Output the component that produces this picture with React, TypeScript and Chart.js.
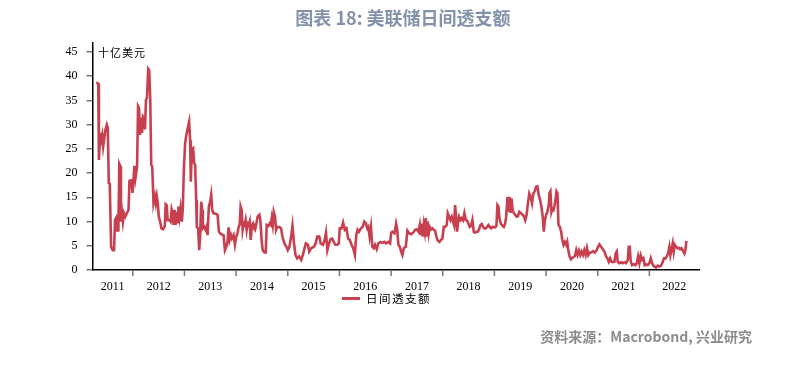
import { useEffect, useRef } from "react";
import { Chart, registerables } from "chart.js";
Chart.register(...registerables);

// decimal-year dates of the observations
const dates: number[] = [
  2011.293, 2011.331, 2011.344, 2011.369, 2011.389, 2011.408, 2011.427, 2011.446, 2011.471, 2011.497,
  2011.516, 2011.535, 2011.554, 2011.580, 2011.611, 2011.637, 2011.656, 2011.675, 2011.688, 2011.707,
  2011.720, 2011.739, 2011.758, 2011.771, 2011.790, 2011.809, 2011.828, 2011.854, 2011.885, 2011.917,
  2011.936, 2011.968, 2011.994, 2012.013, 2012.032, 2012.051, 2012.083, 2012.102, 2012.121, 2012.140,
  2012.159, 2012.178, 2012.197, 2012.217, 2012.236, 2012.255, 2012.274, 2012.299, 2012.318, 2012.338,
  2012.357, 2012.376, 2012.401, 2012.427, 2012.446, 2012.465, 2012.484, 2012.503, 2012.529, 2012.554,
  2012.586, 2012.618, 2012.637, 2012.656, 2012.675, 2012.713, 2012.732, 2012.752, 2012.771, 2012.790,
  2012.809, 2012.828, 2012.847, 2012.866, 2012.885, 2012.904, 2012.924, 2012.949, 2012.968, 2012.987,
  2013.013, 2013.038, 2013.064, 2013.091, 2013.110, 2013.123, 2013.142, 2013.168, 2013.188, 2013.207,
  2013.227, 2013.239, 2013.265, 2013.285, 2013.304, 2013.324, 2013.343, 2013.356, 2013.382, 2013.408,
  2013.427, 2013.447, 2013.472, 2013.498, 2013.518, 2013.537, 2013.563, 2013.608, 2013.641, 2013.667,
  2013.706, 2013.757, 2013.783, 2013.809, 2013.835, 2013.854, 2013.874, 2013.900, 2013.919, 2013.951,
  2013.977, 2014.003, 2014.029, 2014.049, 2014.068, 2014.087, 2014.107, 2014.126, 2014.146, 2014.165,
  2014.184, 2014.204, 2014.223, 2014.243, 2014.262, 2014.282, 2014.307, 2014.327, 2014.346, 2014.366,
  2014.392, 2014.417, 2014.450, 2014.469, 2014.495, 2014.515, 2014.547, 2014.573, 2014.592, 2014.625,
  2014.650, 2014.670, 2014.689, 2014.709, 2014.728, 2014.754, 2014.773, 2014.793, 2014.812, 2014.838,
  2014.871, 2014.896, 2014.922, 2014.948, 2014.974, 2015.000, 2015.032, 2015.065, 2015.091, 2015.117,
  2015.149, 2015.182, 2015.221, 2015.260, 2015.292, 2015.325, 2015.351, 2015.390, 2015.416, 2015.455,
  2015.506, 2015.539, 2015.571, 2015.610, 2015.636, 2015.682, 2015.714, 2015.740, 2015.766, 2015.799,
  2015.825, 2015.857, 2015.890, 2015.922, 2015.961, 2015.987, 2016.006, 2016.039, 2016.071, 2016.104,
  2016.136, 2016.169, 2016.201, 2016.234, 2016.266, 2016.299, 2016.325, 2016.351, 2016.377, 2016.416,
  2016.448, 2016.481, 2016.513, 2016.539, 2016.558, 2016.584, 2016.610, 2016.636, 2016.662, 2016.688,
  2016.721, 2016.753, 2016.792, 2016.831, 2016.870, 2016.903, 2016.948, 2016.981, 2017.000, 2017.026,
  2017.065, 2017.097, 2017.116, 2017.142, 2017.168, 2017.194, 2017.219, 2017.245, 2017.284, 2017.316,
  2017.348, 2017.387, 2017.426, 2017.465, 2017.497, 2017.529, 2017.555, 2017.574, 2017.594, 2017.613,
  2017.632, 2017.652, 2017.671, 2017.690, 2017.710, 2017.729, 2017.748, 2017.774, 2017.800, 2017.826,
  2017.852, 2017.877, 2017.903, 2017.935, 2017.968, 2017.994, 2018.019, 2018.045, 2018.077, 2018.097,
  2018.123, 2018.148, 2018.174, 2018.200, 2018.219, 2018.239, 2018.258, 2018.277, 2018.297, 2018.316,
  2018.342, 2018.368, 2018.394, 2018.419, 2018.445, 2018.471, 2018.497, 2018.523, 2018.548, 2018.574,
  2018.600, 2018.626, 2018.652, 2018.677, 2018.703, 2018.729, 2018.755, 2018.781, 2018.806, 2018.832,
  2018.858, 2018.884, 2018.910, 2018.935, 2018.961, 2019.013, 2019.039, 2019.058, 2019.078, 2019.097,
  2019.123, 2019.156, 2019.182, 2019.208, 2019.227, 2019.253, 2019.273, 2019.292, 2019.312, 2019.331,
  2019.351, 2019.377, 2019.403, 2019.429, 2019.455, 2019.481, 2019.513, 2019.545, 2019.571, 2019.597,
  2019.623, 2019.649, 2019.675, 2019.701, 2019.727, 2019.753, 2019.779, 2019.805, 2019.831, 2019.857,
  2019.883, 2019.909, 2019.935, 2019.955, 2019.974, 2020.000, 2020.026, 2020.052, 2020.065, 2020.084,
  2020.104, 2020.123, 2020.143, 2020.162, 2020.182, 2020.201, 2020.221, 2020.240, 2020.266, 2020.292,
  2020.312, 2020.338, 2020.364, 2020.390, 2020.409, 2020.429, 2020.455, 2020.481, 2020.519, 2020.558,
  2020.584, 2020.610, 2020.636, 2020.662, 2020.688, 2020.714, 2020.740, 2020.766, 2020.792, 2020.818,
  2020.844, 2020.877, 2020.909, 2020.942, 2020.974, 2021.006, 2021.032, 2021.065, 2021.097, 2021.129,
  2021.161, 2021.187, 2021.213, 2021.239, 2021.265, 2021.290, 2021.323, 2021.348, 2021.368, 2021.387,
  2021.419, 2021.452, 2021.484, 2021.516, 2021.548, 2021.581, 2021.600, 2021.619, 2021.639, 2021.665,
  2021.697, 2021.729, 2021.755, 2021.781, 2021.806, 2021.832, 2021.858, 2021.884, 2021.910, 2021.935,
  2021.968, 2022.000, 2022.026, 2022.052, 2022.077, 2022.103, 2022.129, 2022.161, 2022.194, 2022.226,
  2022.258, 2022.284, 2022.310, 2022.335, 2022.361, 2022.387, 2022.406, 2022.426, 2022.452, 2022.471,
  2022.490, 2022.516, 2022.542, 2022.568, 2022.594, 2022.619, 2022.645, 2022.677, 2022.697, 2022.716,
];

// 日间透支额, 十亿美元
const overdraft: number[] = [
  38.7, 38.5, 22.7, 28.3, 26.9, 27.9, 25.5, 27.0, 29.0, 30.0,
  29.3, 17.9, 17.8, 4.8, 4.1, 4.1, 10.3, 10.7, 7.9, 10.3,
  7.9, 21.9, 21.4, 10.0, 12.0, 10.0, 11.7, 11.0, 11.7, 12.4,
  18.4, 18.5, 15.9, 18.6, 21.5, 19.0, 21.4, 33.8, 33.4, 27.9,
  31.4, 28.3, 31.7, 31.4, 29.0, 35.1, 35.5, 41.5, 41.2, 35.1,
  21.7, 21.4, 13.8, 15.2, 13.8, 15.2, 13.8, 11.0, 10.0, 8.6,
  8.4, 9.0, 13.6, 13.4, 10.3, 10.3, 10.0, 12.5, 11.7, 9.3,
  12.4, 9.3, 12.0, 9.6, 13.1, 11.0, 12.7, 10.0, 12.7, 20.3,
  26.2, 27.9, 29.3, 30.6, 26.8, 18.2, 24.8, 25.1, 22.0, 21.7,
  14.5, 8.9, 8.6, 4.1, 6.9, 14.1, 12.4, 8.6, 8.9, 8.3,
  8.9, 7.2, 13.1, 14.1, 15.5, 12.4, 11.7, 11.6, 11.4, 7.9,
  7.4, 7.2, 4.1, 4.8, 5.9, 8.8, 6.2, 7.2, 6.5, 7.2,
  5.2, 6.9, 7.6, 8.9, 9.3, 13.1, 12.4, 8.3, 9.6, 9.3,
  10.3, 8.3, 9.6, 9.3, 10.0, 6.2, 9.3, 9.6, 8.6, 8.3,
  9.6, 11.0, 11.4, 10.3, 5.9, 4.1, 3.6, 3.6, 9.3, 9.1,
  9.6, 9.3, 10.7, 9.3, 12.0, 11.0, 8.3, 8.9, 8.8, 8.9,
  8.6, 6.9, 5.9, 5.2, 4.8, 4.1, 4.8, 6.9, 9.1, 5.8,
  3.1, 2.4, 2.8, 2.1, 3.1, 4.5, 5.5, 5.2, 3.8, 4.5,
  4.8, 5.5, 6.9, 6.9, 5.5, 5.2, 6.2, 7.7, 4.1, 5.5,
  6.3, 6.5, 5.8, 5.2, 5.2, 5.5, 8.6, 8.6, 9.8, 8.3,
  8.6, 6.5, 6.2, 5.2, 4.5, 3.1, 7.2, 8.3, 7.9, 8.6,
  8.9, 10.0, 9.6, 8.6, 8.9, 6.9, 8.9, 4.8, 4.5, 5.2,
  4.3, 5.5, 5.8, 5.6, 5.8, 5.5, 5.8, 5.5, 7.6, 7.9,
  7.6, 9.6, 8.6, 5.2, 4.8, 3.8, 3.1, 4.5, 4.8, 8.1,
  7.6, 7.4, 7.7, 8.3, 8.4, 7.9, 9.3, 7.2, 9.6, 6.9,
  9.3, 7.9, 10.7, 6.9, 10.0, 7.6, 8.9, 8.4, 8.6, 8.3,
  8.1, 6.9, 6.1, 5.8, 6.2, 6.5, 8.9, 8.9, 9.3, 11.7,
  11.0, 10.3, 11.0, 10.0, 9.3, 13.4, 11.0, 7.9, 10.0, 11.0,
  10.3, 10.7, 10.3, 11.7, 10.3, 10.2, 9.6, 8.9, 9.1, 10.3,
  7.9, 7.7, 7.9, 7.9, 8.4, 9.3, 9.5, 8.9, 8.6, 8.6,
  8.9, 9.3, 8.9, 8.6, 8.9, 8.8, 9.1, 13.4, 13.1, 10.7,
  9.6, 9.1, 8.9, 9.6, 11.0, 15.1, 12.0, 15.1, 11.8, 14.8,
  12.4, 11.7, 11.4, 11.0, 11.1, 12.0, 11.7, 11.4, 11.1, 10.3,
  11.4, 13.8, 15.8, 15.1, 13.8, 15.8, 16.2, 17.2, 17.3, 15.5,
  14.5, 13.1, 11.0, 7.9, 10.0, 11.4, 12.0, 13.4, 15.8, 16.2,
  12.0, 12.7, 12.4, 13.1, 14.5, 16.2, 15.8, 9.3, 8.9, 7.9,
  6.3, 5.2, 5.8, 5.2, 5.8, 4.1, 2.8, 2.2, 2.6, 2.9,
  4.1, 3.1, 4.0, 3.1, 3.8, 3.1, 4.1, 3.1, 4.5, 3.1,
  3.6, 3.6, 3.9, 3.6, 4.0, 4.8, 5.3, 4.8, 4.3, 3.8,
  2.8, 2.4, 1.7, 2.4, 1.7, 1.6, 1.7, 3.4, 3.8, 1.7,
  1.4, 1.6, 1.4, 1.6, 1.4, 2.1, 4.8, 4.8, 1.7, 1.0,
  1.2, 1.0, 1.4, 2.8, 1.4, 3.0, 2.1, 2.4, 1.0, 1.2,
  1.0, 1.4, 2.4, 1.4, 0.9, 0.7, 0.5, 0.9, 0.7, 0.9,
  1.7, 2.4, 2.4, 2.8, 3.4, 4.8, 3.1, 4.1, 5.5, 3.8,
  5.2, 4.8, 4.5, 4.6, 4.3, 4.5, 4.1, 3.4, 4.1, 6.0,
];

const yTicks: number[] = [0, 5, 10, 15, 20, 25, 30, 35, 40, 45];
const yearBounds: number[] = [2012, 2013, 2014, 2015, 2016, 2017, 2018, 2019, 2020, 2021, 2022];
const xMin = 2011.22;
const xMax = 2022.96;
const yMax = 47;

const TITLE = "图表 18: 美联储日间透支额";
const UNIT = "十亿美元";
const SERIES = "日间透支额";
const SOURCE = "资料来源：Macrobond, 兴业研究";
const LINE_COLOR = "#c8404f";

export default function App() {
  const ref = useRef<HTMLCanvasElement>(null);

  useEffect(() => {
    document.body.style.margin = "0";
    const yearTicks = {
      id: "yearTicks",
      afterDraw(chart: any) {
        const s = chart.scales.x;
        const ctx = chart.ctx;
        ctx.save();
        ctx.strokeStyle = "#777";
        ctx.lineWidth = 1.5;
        for (const yr of yearBounds) {
          const px = s.getPixelForValue(yr);
          ctx.beginPath();
          ctx.moveTo(px, s.top);
          ctx.lineTo(px, s.top + 6);
          ctx.stroke();
        }
        ctx.restore();
      },
    };
    const labelTicks = () => {
      const vals: number[] = [(xMin + yearBounds[0]) / 2];
      for (let i = 0; i < yearBounds.length - 1; i++) vals.push((yearBounds[i] + yearBounds[i + 1]) / 2);
      vals.push((yearBounds[yearBounds.length - 1] + xMax) / 2);
      return vals.map((v) => ({ value: v }));
    };
    const chart = new Chart(ref.current!, {
      type: "line",
      data: {
        datasets: [
          {
            label: SERIES,
            data: dates.map((d, i) => ({ x: d, y: overdraft[i] })),
            borderColor: LINE_COLOR,
            backgroundColor: LINE_COLOR,
            borderWidth: 2.6,
            pointRadius: 0,
            tension: 0,
            fill: false,
          },
        ],
      },
      options: {
        responsive: false,
        animation: false,
        devicePixelRatio: 1,
        layout: { padding: { left: 0, right: 87, top: 42.3, bottom: 65 } },
        plugins: { legend: { display: false }, tooltip: { enabled: false } },
        scales: {
          x: {
            type: "linear",
            min: xMin,
            max: xMax,
            grid: { display: false },
            border: { display: true, color: "#000", width: 1.5 },
            afterBuildTicks: (s: any) => {
              s.ticks = labelTicks();
            },
            afterFit: (s: any) => {
              s.height = 30;
            },
            ticks: {
              padding: 2,
              color: "#000",
              autoSkip: false,
              maxRotation: 0,
              font: { family: "'Liberation Serif', serif", size: 12 },
              callback: (v: any) => String(Math.floor(Number(v))),
            },
          },
          y: {
            min: 0,
            max: yMax,
            afterBuildTicks: (s: any) => {
              s.ticks = yTicks.map((v) => ({ value: v }));
            },
            afterFit: (s: any) => {
              s.width = 92.5;
            },
            grid: { drawOnChartArea: false, drawTicks: true, tickLength: 6, color: "#777", lineWidth: 1.5 },
            border: { display: true, color: "#000", width: 1.5 },
            ticks: {
              padding: 9,
              color: "#000",
              font: { family: "'Liberation Serif', serif", size: 12 },
            },
          },
        },
      },
      plugins: [yearTicks],
    } as any);
    return () => chart.destroy();
  }, []);

  return (
    <div style={{ position: "fixed", left: 0, top: 0, width: 786, height: 365, background: "#fff", overflow: "hidden" }}>
      <canvas ref={ref} width={786} height={365} style={{ position: "absolute", left: 0, top: 0, width: 786, height: 365 }} />
      <div
        style={{
          position: "absolute", left: 203, top: 7, width: 400, textAlign: "center",
          fontFamily: "'Noto Sans CJK SC', 'Noto Sans', sans-serif", fontWeight: 700, fontSize: 18,
          lineHeight: "21px", color: "#8392aa", whiteSpace: "nowrap",
        }}
      >
        {TITLE}
      </div>
      <div
        style={{
          position: "absolute", left: 98, top: 45, fontFamily: "'Noto Sans CJK SC', sans-serif",
          fontSize: 11, letterSpacing: 1, lineHeight: "14px", color: "#000", whiteSpace: "nowrap",
        }}
      >
        {UNIT}
      </div>
      <div style={{ position: "absolute", left: 342, top: 297, width: 18, height: 2.6, background: LINE_COLOR }} />
      <div
        style={{
          position: "absolute", left: 366, top: 291, fontFamily: "'Noto Sans CJK SC', sans-serif",
          fontSize: 11.5, letterSpacing: 1.5, lineHeight: "14px", color: "#000", whiteSpace: "nowrap",
        }}
      >
        {SERIES}
      </div>
      <div
        style={{
          position: "absolute", right: 34, top: 328, fontFamily: "'Noto Sans CJK SC', 'Noto Sans', sans-serif",
          fontWeight: 700, fontSize: 14, lineHeight: "17px", color: "#8c8c8c", whiteSpace: "nowrap",
        }}
      >
        {SOURCE}
      </div>
    </div>
  );
}
